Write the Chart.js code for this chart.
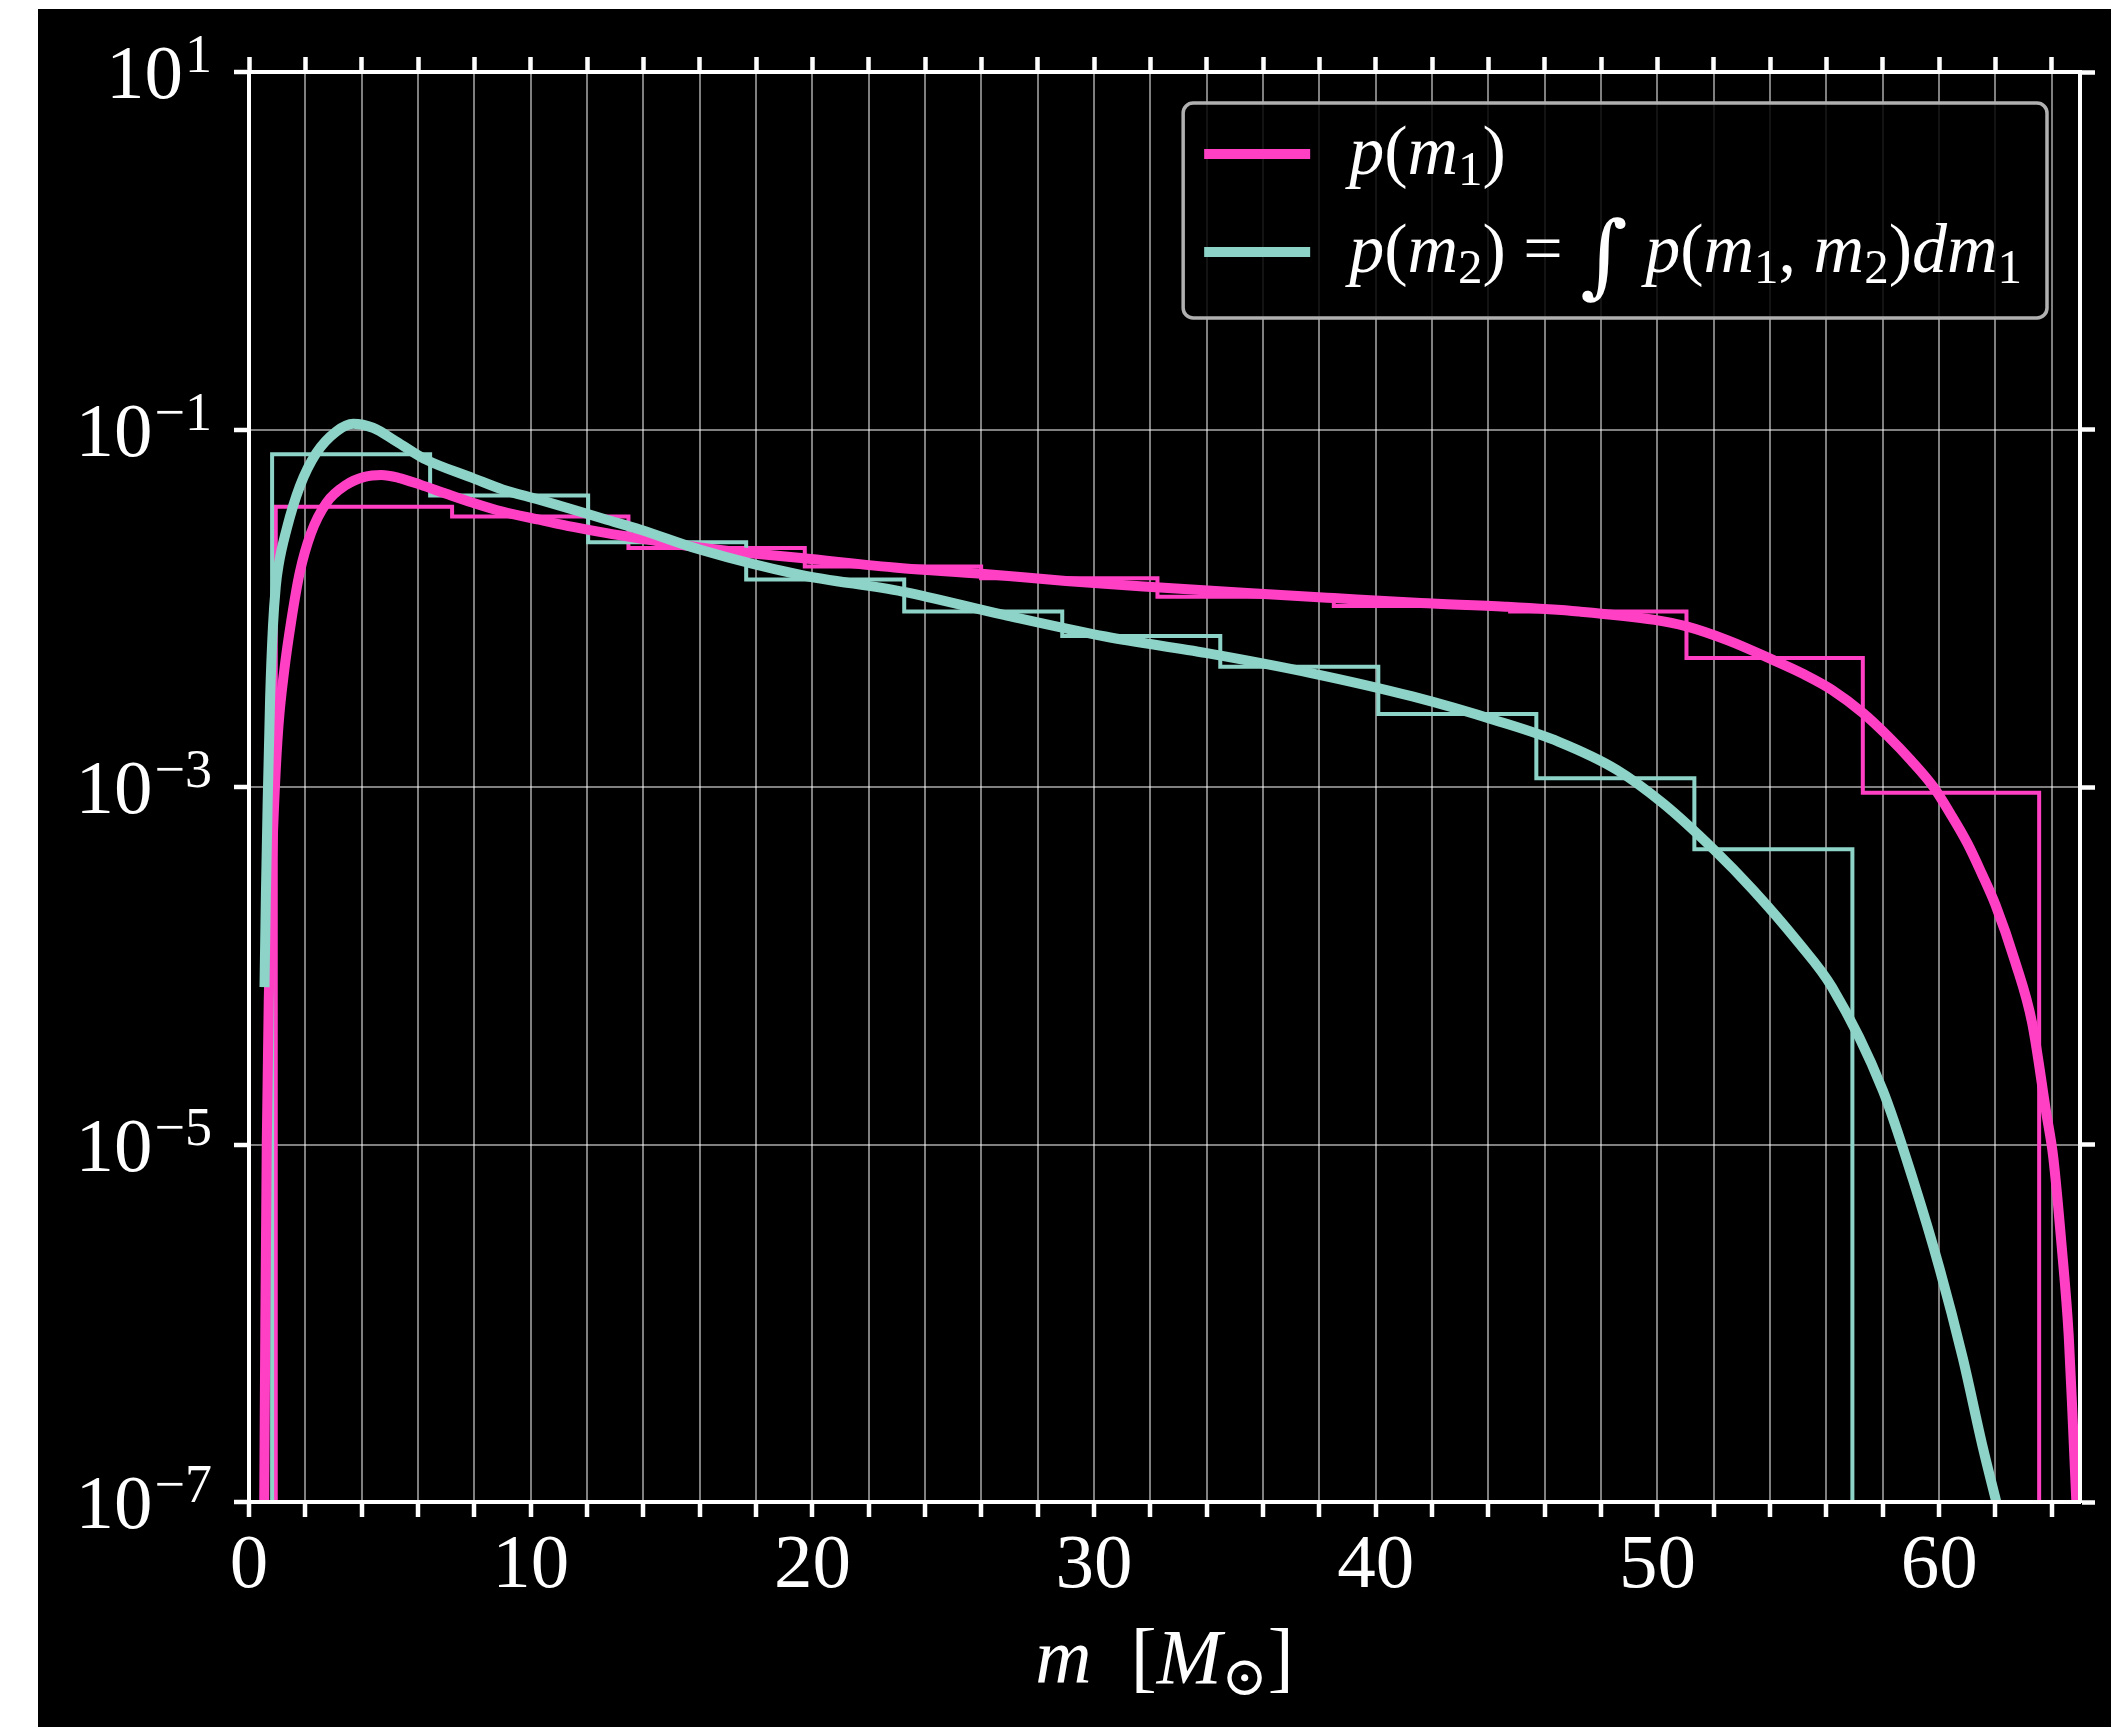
<!DOCTYPE html>
<html>
<head>
<meta charset="utf-8">
<script src="https://cdn.jsdelivr.net/npm/chart.js@4.4.1/dist/chart.umd.min.js"></script>
<style>
  html, body { margin: 0; padding: 0; background: #ffffff; width: 2111px; height: 1727px; overflow: hidden; }
  #frame { position: absolute; left: 38px; top: 9px; width: 2073px; height: 1718px; background: #000000; }
  canvas { display: block; }
</style>
</head>
<body>
<div id="frame"><canvas id="chart" width="2073" height="1718"></canvas></div>
<script>
// Primary-mass density p(m1), sampled along the mass grid
const m1Grid = [0.54, 0.58, 0.63, 0.70, 0.80, 0.92, 1.05, 1.25, 1.50, 1.80, 2.20, 2.75, 3.45, 4.10, 4.70,
  5.30, 6.10, 7.00, 7.95, 9.00, 10.3, 11.5, 12.7, 14.1, 16.0, 18.0, 19.6, 23.1, 26.0, 29.0, 32.2, 35.3,
  38.5, 41.6, 44.6, 47.2, 49.9, 51.0, 52.5, 54.1, 55.2, 56.2, 57.3, 58.2, 59.0, 59.8, 60.4, 61.0, 61.5,
  62.0, 62.7, 63.3, 63.8, 64.05, 64.35, 64.6, 64.75, 64.87];
const p1Curve = [1.0e-7, 1.0e-6, 1.0e-5, 6.3e-5, 3.2e-4, 1.0e-3, 2.24e-3, 4.47e-3, 8.5e-3, 1.58e-2, 2.63e-2,
  3.89e-2, 4.90e-2, 5.43e-2, 5.56e-2, 5.37e-2, 4.90e-2, 4.37e-2, 3.89e-2, 3.47e-2, 3.13e-2, 2.85e-2,
  2.63e-2, 2.43e-2, 2.19e-2, 2.02e-2, 1.91e-2, 1.68e-2, 1.56e-2, 1.42e-2, 1.31e-2, 1.22e-2, 1.14e-2,
  1.07e-2, 1.02e-2, 9.59e-3, 8.61e-3, 7.94e-3, 6.61e-3, 5.14e-3, 4.27e-3, 3.49e-3, 2.59e-3, 1.91e-3,
  1.41e-3, 1.0e-3, 7.08e-4, 4.85e-4, 3.31e-4, 2.19e-4, 1.05e-4, 4.79e-5, 1.51e-5, 8.5e-6, 2.69e-6,
  8.5e-7, 2.69e-7, 1.0e-7];

// Secondary-mass density p(m2), marginalised over m1
const m2Grid = [0.55, 0.60, 0.66, 0.75, 0.85, 0.95, 1.05, 1.33, 1.80, 2.39, 3.10, 3.70, 4.40, 5.23, 6.30,
  7.95, 9.0, 10.3, 12.7, 13.9, 16.0, 19.55, 23.2, 26.8, 30.4, 34.0, 37.7, 41.3, 44.4, 46.5, 48.55, 50.2,
  52.0, 53.4, 55.0, 56.2, 58.0, 59.07, 60.02, 60.84, 61.55, 62.03];
const p2Curve = [7.6e-5, 2.5e-4, 7.9e-4, 3.16e-3, 7.9e-3, 1.32e-2, 1.74e-2, 2.75e-2, 4.79e-2, 7.38e-2,
  9.75e-2, 0.1076, 0.1023, 8.57e-2, 6.76e-2, 5.35e-2, 4.62e-2, 4.05e-2, 3.13e-2, 2.75e-2, 2.13e-2,
  1.54e-2, 1.24e-2, 9.18e-3, 6.95e-3, 5.61e-3, 4.34e-3, 3.21e-3, 2.32e-3, 1.79e-3, 1.25e-3, 8.1e-4,
  4.47e-4, 2.65e-4, 1.35e-4, 7.57e-5, 2.01e-5, 6.37e-6, 2.01e-6, 6.38e-7, 2.02e-7, 1.0e-7];

// Normalised histograms of the drawn samples
const m1BinEdges = [0.95, 7.21, 13.47, 19.73, 25.99, 32.25, 38.51, 44.77, 51.03, 57.29, 63.55];
const m1BinHeights = [0.0370, 0.0326, 0.0217, 0.0171, 0.0147, 0.0116, 0.0103, 0.0096, 0.00526, 0.00093];
const m2BinEdges = [0.82, 6.43, 12.04, 17.65, 23.26, 28.87, 34.48, 40.09, 45.70, 51.31, 56.92];
const m2BinHeights = [0.0728, 0.0427, 0.0234, 0.0145, 0.0096, 0.0070, 0.0047, 0.00256, 0.00112, 0.000449];

// Axes
const xRange = [0, 65];
const xTickStep = 2;
const xTickLabels = [0, 10, 20, 30, 40, 50, 60];
const yTickExponents = [1, -1, -3, -5, -7];
const xAxisTitle = 'm  [M_⊙]';
const seriesLabels = ['p(m_1)', 'p(m_2) = ∫ p(m_1, m_2)dm_1'];

const PINK = '#ff40c4';
const TEAL = '#8dd3c7';
const GRID = 'rgba(255,255,255,0.5)';
const SERIF = '"Liberation Serif", "DejaVu Serif", serif';

const yMin = Math.pow(10, Math.min(...yTickExponents));
const yMax = Math.pow(10, Math.max(...yTickExponents));

function curvePoints(ms, ps) {
  return ms.map((m, i) => ({ x: m, y: ps[i] }));
}
// outline of a step histogram, dropping to the axis floor at both ends
function histPoints(edges, heights, floor) {
  const pts = [{ x: edges[0], y: floor }];
  heights.forEach((h, i) => {
    pts.push({ x: edges[i], y: h });
    pts.push({ x: edges[i + 1], y: h });
  });
  pts.push({ x: edges[edges.length - 1], y: floor });
  return pts;
}

// --- small math-text renderer: italic letters, upright symbols, _x subscripts
function mathRuns(src) {
  const runs = [];
  for (let i = 0; i < src.length; i++) {
    const ch = src[i];
    if (ch === '_') { runs.push({ t: src[i + 1], kind: 'sub' }); i++; continue; }
    if (/[A-Za-z]/.test(ch)) runs.push({ t: ch, kind: 'it' });
    else if (ch === '∫') runs.push({ t: ch, kind: 'big' });
    else runs.push({ t: ch, kind: 'rm' });
  }
  return runs;
}
function runFont(kind, size) {
  if (kind === 'it') return 'italic ' + size + 'px ' + SERIF;
  if (kind === 'sub') return Math.round(size * 0.7) + 'px ' + SERIF + ', "DejaVu Sans"';
  if (kind === 'big') return Math.round(size * 1.3) + 'px "DejaVu Serif", "DejaVu Sans"';
  return size + 'px ' + SERIF + ', "DejaVu Sans"';
}
function runDy(kind, size) {
  if (kind === 'sub') return size * 0.16;
  if (kind === 'big') return size * 0.2;
  return 0;
}
function measureMath(ctx, runs, size) {
  let w = 0;
  runs.forEach(r => { ctx.font = runFont(r.kind, size); w += ctx.measureText(r.t).width; });
  return w;
}
function drawMath(ctx, runs, x, y, size) {
  let cx = x;
  ctx.textAlign = 'left';
  ctx.textBaseline = 'alphabetic';
  runs.forEach(r => {
    ctx.font = runFont(r.kind, size);
    ctx.fillText(r.t, cx, y + runDy(r.kind, size));
    cx += ctx.measureText(r.t).width;
  });
}

// y tick labels as powers of ten, the x title and the framed legend
const mathText = {
  id: 'mathText',
  afterDraw(chart) {
    const ctx = chart.ctx;
    const area = chart.chartArea;
    const yScale = chart.scales.y;
    ctx.save();
    ctx.fillStyle = '#ffffff';
    ctx.textBaseline = 'alphabetic';
    ctx.textAlign = 'left';

    const baseSize = 77, expSize = 54;
    yTickExponents.forEach(e => {
      const py = yScale.getPixelForValue(Math.pow(10, e));
      const expText = e < 0 ? '\u2212' + Math.abs(e) : String(e);
      ctx.font = expSize + 'px ' + SERIF;
      const ew = ctx.measureText(expText).width;
      const expRight = area.left - 37;
      ctx.fillText(expText, expRight - ew, py);
      ctx.font = baseSize + 'px ' + SERIF;
      const bw = ctx.measureText('10').width;
      ctx.fillText('10', expRight - ew - 2 - bw, py + 26);
    });

    // x axis title
    const titleRuns = mathRuns(xAxisTitle);
    const titleSize = 78;
    const tw = measureMath(ctx, titleRuns, titleSize);
    drawMath(ctx, titleRuns, (area.left + area.right) / 2 - tw / 2, area.bottom + 181, titleSize);

    // legend, rows in the order of seriesLabels
    const legendSize = 70;
    const curves = seriesLabels.map(l => chart.data.datasets.find(d => d.isCurve && d.label === l));
    const rows = curves.map(d => mathRuns(d.label));
    const textW = Math.max(...rows.map(r => measureMath(ctx, r, legendSize)));
    const padL = 21, handleLen = 106, gap = 39, padR = 25;
    const boxW = padL + handleLen + gap + textW + padR;
    const boxH = 215;
    const boxRight = area.right - 33;
    const boxLeft = boxRight - boxW;
    const boxTop = area.top + 31;
    ctx.beginPath();
    ctx.roundRect(boxLeft, boxTop, boxW, boxH, 10);
    ctx.fillStyle = 'rgba(0,0,0,0.85)';
    ctx.fill();
    ctx.lineWidth = 3.5;
    ctx.strokeStyle = '#b0b0b0';
    ctx.stroke();

    const rowCenters = [51, 149];
    curves.forEach((d, i) => {
      const cy = boxTop + rowCenters[i];
      ctx.beginPath();
      ctx.moveTo(boxLeft + padL, cy);
      ctx.lineTo(boxLeft + padL + handleLen, cy);
      ctx.strokeStyle = d.borderColor;
      ctx.lineWidth = d.borderWidth;
      ctx.lineCap = 'butt';
      ctx.stroke();
      ctx.fillStyle = '#ffffff';
      drawMath(ctx, rows[i], boxLeft + padL + handleLen + gap, cy + 20, legendSize);
    });
    ctx.restore();
  }
};

const tickFont = { family: SERIF, size: 77 };

new Chart(document.getElementById('chart'), {
  type: 'line',
  data: {
    datasets: [
      { label: seriesLabels[1], data: curvePoints(m2Grid, p2Curve), borderColor: TEAL, borderWidth: 10,
        pointRadius: 0, cubicInterpolationMode: 'monotone', order: 0, clip: 0, isCurve: true },
      { label: seriesLabels[0], data: curvePoints(m1Grid, p1Curve), borderColor: PINK, borderWidth: 10,
        pointRadius: 0, cubicInterpolationMode: 'monotone', order: 1, clip: 0, isCurve: true },
      { label: 'hist m2', data: histPoints(m2BinEdges, m2BinHeights, yMin), borderColor: TEAL, borderWidth: 4,
        pointRadius: 0, tension: 0, order: 2, clip: 0 },
      { label: 'hist m1', data: histPoints(m1BinEdges, m1BinHeights, yMin), borderColor: PINK, borderWidth: 4,
        pointRadius: 0, tension: 0, order: 3, clip: 0 }
    ]
  },
  options: {
    responsive: false,
    animation: false,
    devicePixelRatio: 1,
    layout: { padding: 0, autoPadding: false },
    plugins: { legend: { display: false }, tooltip: { enabled: false } },
    scales: {
      x: {
        type: 'linear', position: 'bottom', min: xRange[0], max: xRange[1],
        afterFit: s => { s.height = 225; },
        ticks: {
          stepSize: xTickStep, autoSkip: false, maxRotation: 0, includeBounds: false,
          color: '#ffffff', font: tickFont, padding: 4,
          callback: v => (xTickLabels.includes(v) ? String(v) : '')
        },
        grid: { color: GRID, lineWidth: 2, tickColor: '#ffffff', tickWidth: 4.5, tickLength: 15 },
        border: { color: '#ffffff', width: 4, z: 1 }
      },
      xTop: {
        type: 'linear', position: 'top', min: xRange[0], max: xRange[1],
        afterFit: s => { s.height = 63; },
        ticks: { stepSize: xTickStep, autoSkip: false, includeBounds: false, display: false },
        grid: { drawOnChartArea: false, tickColor: '#ffffff', tickWidth: 4.5, tickLength: 15 },
        border: { color: '#ffffff', width: 4, z: 1 }
      },
      y: {
        type: 'logarithmic', position: 'left', min: yMin, max: yMax,
        afterFit: s => { s.width = 211; },
        afterBuildTicks: s => { s.ticks = yTickExponents.map(e => ({ value: Math.pow(10, e) })); },
        ticks: { display: false },
        grid: { color: GRID, lineWidth: 2, tickColor: '#ffffff', tickWidth: 4.5, tickLength: 15 },
        border: { color: '#ffffff', width: 4, z: 1 }
      },
      yRight: {
        type: 'logarithmic', position: 'right', min: yMin, max: yMax,
        afterFit: s => { s.width = 31; },
        afterBuildTicks: s => { s.ticks = yTickExponents.map(e => ({ value: Math.pow(10, e) })); },
        ticks: { display: false },
        grid: { drawOnChartArea: false, tickColor: '#ffffff', tickWidth: 4.5, tickLength: 15 },
        border: { color: '#ffffff', width: 4, z: 1 }
      }
    }
  },
  plugins: [mathText]
});
</script>
</body>
</html>
